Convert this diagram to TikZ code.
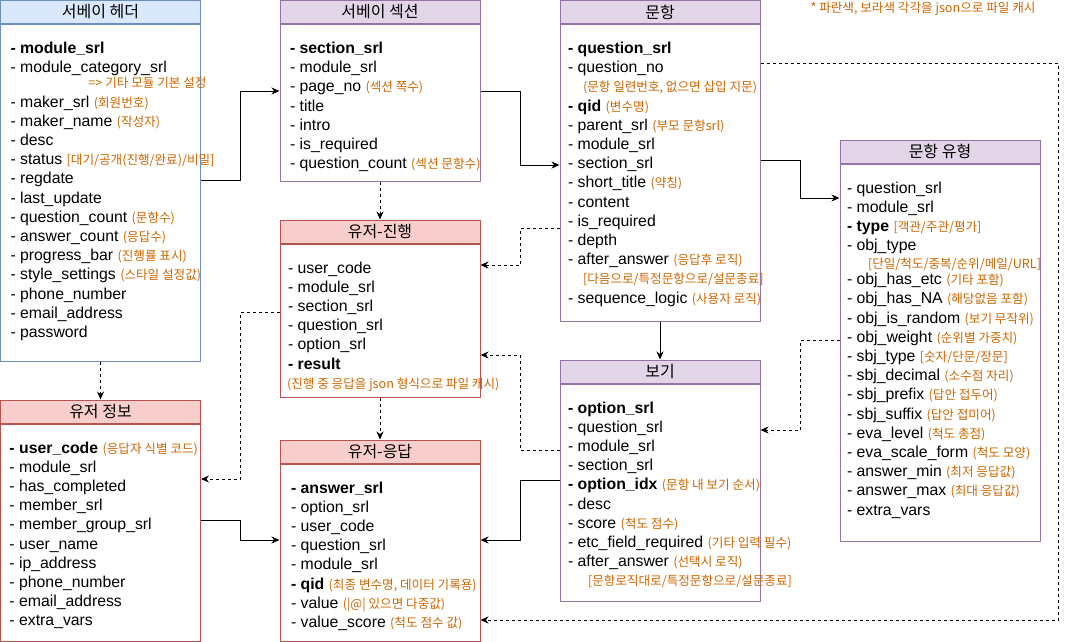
\documentclass[tikz,border=0pt]{standalone}
\usepackage{fontspec}
\setmainfont{Liberation Sans}
\newfontfamily\korfont{Noto Sans CJK KR}
\usetikzlibrary{positioning,arrows.meta}
\definecolor{noteorange}{HTML}{CC6600}
\definecolor{blueface}{HTML}{DAE8FC}
\definecolor{blueedge}{HTML}{6C8EBF}
\definecolor{purpleface}{HTML}{E1D5E7}
\definecolor{purpleedge}{HTML}{9673A6}
\definecolor{redface}{HTML}{F8CECC}
\definecolor{rededge}{HTML}{B85450}
\newcommand\kornote[1]{{\korfont\fontsize{12.6pt}{14pt}\selectfont\color{noteorange}#1}}
\newcommand\fieldbox[3]{\parbox[t][#2][t]{200pt}{\leftskip=#1\relax\rule{0pt}{29pt}#3}}
\tikzset{
  tablehead/.style={draw, line width=1pt, minimum width=200pt, minimum height=23pt, inner sep=0pt, font=\korfont\fontsize{16pt}{18pt}\selectfont},
  bluehead/.style={tablehead, fill=blueface, draw=blueedge},
  purplehead/.style={tablehead, fill=purpleface, draw=purpleedge},
  redhead/.style={tablehead, fill=redface, draw=rededge},
  tablebody/.style={draw, line width=1pt, inner sep=0pt, font=\fontsize{15.8pt}{19.2pt}\selectfont},
  link/.style={-{Stealth[length=8pt,width=7pt]}, line width=1pt},
  dlink/.style={link, dash pattern=on 3pt off 3pt},
}
\begin{document}
\begin{tikzpicture}[x=1pt,y=-1pt]
\useasboundingbox (0,0) rectangle (1069,641);

\node[bluehead] (hdrhead) at (100.5,12) {서베이 헤더};
\node[tablebody, draw=blueedge, below=0pt of hdrhead] (hdrbody) {\fieldbox{10pt}{336.5pt}{%
\mbox{\textbf{- module\_srl}}\\
\mbox{- module\_category\_srl}\\[-4pt]
\mbox{\hspace*{78pt}\kornote{=> 기타 모듈 기본 설정}}\\
\mbox{- maker\_srl \kornote{(회원번호)}}\\
\mbox{- maker\_name \kornote{(작성자)}}\\
\mbox{- desc}\\
\mbox{- status \kornote{[대기/공개(진행/완료)/비밀]}}\\
\mbox{- regdate}\\
\mbox{- last\_update}\\
\mbox{- question\_count \kornote{(문항수)}}\\
\mbox{- answer\_count \kornote{(응답수)}}\\
\mbox{- progress\_bar \kornote{(진행률 표시)}}\\
\mbox{- style\_settings \kornote{(스타일 설정값)}}\\
\mbox{- phone\_number}\\
\mbox{- email\_address}\\
\mbox{- password}}};

\node[redhead] (usrhead) at (100.5,411.5) {유저 정보};
\node[tablebody, draw=rededge, below=0pt of usrhead] (usrbody) {\fieldbox{9pt}{217pt}{%
\mbox{\textbf{- user\_code} \kornote{(응답자 식별 코드)}}\\
\mbox{- module\_srl}\\
\mbox{- has\_completed}\\
\mbox{- member\_srl}\\
\mbox{- member\_group\_srl}\\
\mbox{- user\_name}\\
\mbox{- ip\_address}\\
\mbox{- phone\_number}\\
\mbox{- email\_address}\\
\mbox{- extra\_vars}}};

\node[purplehead] (sechead) at (380,12) {서베이 섹션};
\node[tablebody, draw=purpleedge, below=0pt of sechead] (secbody) {\fieldbox{10pt}{156.5pt}{%
\mbox{\textbf{- section\_srl}}\\
\mbox{- module\_srl}\\
\mbox{- page\_no \kornote{(섹션 쪽수)}}\\
\mbox{- title}\\
\mbox{- intro}\\
\mbox{- is\_required}\\
\mbox{- question\_count \kornote{(섹션 문항수)}}}};

\node[redhead] (prghead) at (380,231.5) {유저-진행};
\node[tablebody, draw=rededge, below=0pt of prghead] (prgbody) {\fieldbox{8pt}{153pt}{%
\mbox{- user\_code}\\
\mbox{- module\_srl}\\
\mbox{- section\_srl}\\
\mbox{- question\_srl}\\
\mbox{- option\_srl}\\
\mbox{\textbf{- result}}\\
\mbox{\hspace*{-1pt}\kornote{(진행 중 응답을 json 형식으로 파일 캐시)}}}};

\node[redhead] (anshead) at (380,451.5) {유저-응답};
\node[tablebody, draw=rededge, below=0pt of anshead] (ansbody) {\fieldbox{11pt}{177pt}{%
\mbox{\textbf{- answer\_srl}}\\
\mbox{- option\_srl}\\
\mbox{- user\_code}\\
\mbox{- question\_srl}\\
\mbox{- module\_srl}\\
\mbox{\textbf{- qid} \kornote{(최종 변수명, 데이터 기록용)}}\\
\mbox{- value \kornote{(|@| 있으면 다중값)}}\\
\mbox{- value\_score \kornote{(척도 점수 값)}}}};

\node[purplehead] (qsthead) at (660,12) {문항};
\node[tablebody, draw=purpleedge, below=0pt of qsthead] (qstbody) {\fieldbox{8pt}{296.5pt}{%
\mbox{\textbf{- question\_srl}}\\
\mbox{- question\_no}\\
\mbox{\hspace*{15pt}\kornote{(문항 일련번호, 없으면 삽입 지문)}}\\
\mbox{\textbf{- qid} \kornote{(변수명)}}\\
\mbox{- parent\_srl \kornote{(부모 문항srl)}}\\
\mbox{- module\_srl}\\
\mbox{- section\_srl}\\
\mbox{- short\_title \kornote{(약칭)}}\\
\mbox{- content}\\
\mbox{- is\_required}\\
\mbox{- depth}\\
\mbox{- after\_answer \kornote{(응답후 로직)}}\\
\mbox{\hspace*{15pt}\kornote{[다음으로/특정문항으로/설문종료]}}\\
\mbox{- sequence\_logic \kornote{(사용자 로직)}}}};

\node[purplehead] (opthead) at (660,371.5) {보기};
\node[tablebody, draw=purpleedge, below=0pt of opthead] (optbody) {\fieldbox{8pt}{217pt}{%
\mbox{\textbf{- option\_srl}}\\
\mbox{- question\_srl}\\
\mbox{- module\_srl}\\
\mbox{- section\_srl}\\
\mbox{\textbf{- option\_idx} \kornote{(문항 내 보기 순서)}}\\
\mbox{- desc}\\
\mbox{- score \kornote{(척도 점수)}}\\
\mbox{- etc\_field\_required \kornote{(기타 입력 필수)}}\\
\mbox{- after\_answer \kornote{(선택시 로직)}}\\
\mbox{\hspace*{20pt}\kornote{[문항로직대로/특정문항으로/설문종료]}}}};

\node[purplehead] (qtyhead) at (940,151.5) {문항 유형};
\node[tablebody, draw=purpleedge, below=0pt of qtyhead] (qtybody) {\fieldbox{7pt}{377pt}{%
\mbox{- question\_srl}\\
\mbox{- module\_srl}\\
\mbox{\textbf{- type} \kornote{[객관/주관/평가]}}\\
\mbox{- obj\_type}\\[-1.2pt]
\mbox{\hspace*{21pt}\kornote{[단일/척도/중복/순위/메일/URL]}}\\[-3.2pt]
\mbox{- obj\_has\_etc \kornote{(기타 포함)}}\\
\mbox{- obj\_has\_NA \kornote{(해당없음 포함)}}\\
\mbox{- obj\_is\_random \kornote{(보기 무작위)}}\\
\mbox{- obj\_weight \kornote{(순위별 가중치)}}\\
\mbox{- sbj\_type \kornote{[숫자/단문/장문]}}\\
\mbox{- sbj\_decimal \kornote{(소수점 자리)}}\\
\mbox{- sbj\_prefix \kornote{(답안 접두어)}}\\
\mbox{- sbj\_suffix \kornote{(답안 접미어)}}\\
\mbox{- eva\_level \kornote{(척도 총점)}}\\
\mbox{- eva\_scale\_form \kornote{(척도 모양)}}\\
\mbox{- answer\_min \kornote{(최저 응답값)}}\\
\mbox{- answer\_max \kornote{(최대 응답값)}}\\
\mbox{- extra\_vars}}};

\node (memo) at (923,9) {\kornote{* 파란색, 보라색 각각을 json으로 파일 캐시}};

\draw[link] (hdrbody.east |- 0,180) -- (240,180) |- (secbody.west |- 0,91);
\draw[link] (secbody.east |- 0,91) -- (520,91) |- (qstbody.west |- 0,165);
\draw[dlink] (secbody.south) -- (prghead.north);
\draw[dlink] (prgbody.south) -- (anshead.north);
\draw[dlink] (hdrbody.south) -- (usrhead.north);
\draw[link] (qstbody.east |- 0,160) -- (800,160) |- (qtybody.west |- 0,198);
\draw[link] (qstbody.south) -- (opthead.north);
\draw[dlink] (qtybody.west |- 0,340) -- (800,340) |- (optbody.east |- 0,430);
\draw[dlink] (qstbody.east |- 0,63) -- (1058,63) |- (ansbody.east |- 0,620);
\draw[dlink] (qstbody.west |- 0,228) -- (520,228) |- (prgbody.east |- 0,265);
\draw[dlink] (optbody.west |- 0,450) -- (520,450) |- (prgbody.east |- 0,355);
\draw[link] (optbody.west |- 0,480) -- (520,480) |- (ansbody.east |- 0,540);
\draw[link] (usrbody.east |- 0,520) -- (240,520) |- (ansbody.west |- 0,540);
\draw[dlink] (prgbody.west |- 0,312) -- (240,312) |- (usrbody.east |- 0,479);
\end{tikzpicture}
\end{document}
